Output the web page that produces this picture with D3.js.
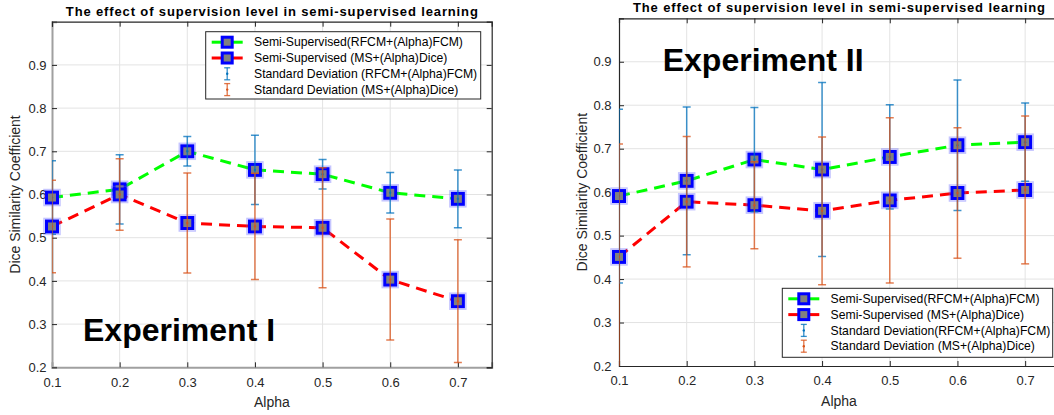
<!DOCTYPE html>
<html><head><meta charset="utf-8">
<script src="https://cdn.jsdelivr.net/npm/d3@7"></script>
<style>body{margin:0;background:#fff;}svg{display:block;font-family:"Liberation Sans",Arial,sans-serif;}</style>
</head><body>
<svg id="c" width="1054" height="415"></svg>
<script>
// ---- data ----
const alpha = [0.1, 0.2, 0.3, 0.4, 0.5, 0.6, 0.7];
const xTicks = [0.1, 0.2, 0.3, 0.4, 0.5, 0.6, 0.7];
const yTicks = [0.2, 0.3, 0.4, 0.5, 0.6, 0.7, 0.8, 0.9];
const title = "The effect of supervision level in semi-supervised learning";
const xLabel = "Alpha";
const yLabel = "Dice Similarity Coefficient";

const exp1RFCM   = [0.593, 0.612, 0.700, 0.657, 0.647, 0.604, 0.590];
const exp1RFCMsd = [0.085, 0.080, 0.034, 0.080, 0.034, 0.047, 0.067];
const exp1MS     = [0.526, 0.600, 0.534, 0.526, 0.523, 0.403, 0.353];
const exp1MSsd   = [0.107, 0.083, 0.116, 0.123, 0.139, 0.140, 0.142];

const exp2RFCM   = [0.591, 0.626, 0.675, 0.652, 0.681, 0.708, 0.715];
const exp2RFCMsd = [0.200, 0.170, 0.120, 0.200, 0.120, 0.150, 0.090];
const exp2MS     = [0.451, 0.578, 0.570, 0.557, 0.581, 0.598, 0.605];
const exp2MSsd   = [0.260, 0.150, 0.100, 0.170, 0.190, 0.150, 0.170];

const legend1 = ["Semi-Supervised(RFCM+(Alpha)FCM)", "Semi-Supervised (MS+(Alpha)Dice)",
                 "Standard Deviation (RFCM+(Alpha)FCM)", "Standard Deviation (MS+(Alpha)Dice)"];
const legend2 = ["Semi-Supervised(RFCM+(Alpha)FCM)", "Semi-Supervised (MS+(Alpha)Dice)",
                 "Standard Deviation(RFCM+(Alpha)FCM)", "Standard Deviation (MS+(Alpha)Dice)"];

const GREEN = "#00ff00", RED = "#ff0000", BLUE = "#0072BD", ORANGE = "#D95319";

const svg = d3.select("#c");

function drawChart(cfg) {
  const g = svg.append("g");
  const x = d3.scaleLinear().domain([0.1, 0.75]).range([cfg.x0, cfg.x1]);
  const y = d3.scaleLinear().domain([0.2, 1.0]).range([cfg.y1, cfg.y0]);
  const clipId = "clip" + cfg.id;
  svg.append("clipPath").attr("id", clipId).append("rect")
    .attr("x", cfg.x0).attr("y", cfg.y0).attr("width", cfg.x1 - cfg.x0).attr("height", cfg.y1 - cfg.y0);

  // grid
  g.append("g").selectAll("line").data(xTicks.slice(1)).join("line")
    .attr("x1", d => x(d)).attr("x2", d => x(d)).attr("y1", cfg.y0).attr("y2", cfg.y1)
    .attr("stroke", "#e3e3e3").attr("stroke-width", 1);
  g.append("g").selectAll("line").data(yTicks.slice(1)).join("line")
    .attr("y1", d => y(d)).attr("y2", d => y(d)).attr("x1", cfg.x0).attr("x2", cfg.x1)
    .attr("stroke", "#e3e3e3").attr("stroke-width", 1);

  // axes (MATLAB-like box, inward ticks)
  const ax = g.append("g").attr("font-size", 13).attr("fill", "#262626");
  const bottom = d3.axisBottom(x).tickValues(xTicks).tickSize(-5).tickPadding(10).tickFormat(d3.format(".1f"));
  const left = d3.axisLeft(y).tickValues(yTicks).tickSize(-5).tickPadding(cfg.yPad).tickFormat(d3.format(".1f"));
  const top = d3.axisTop(x).tickValues(xTicks).tickSize(-5).tickFormat("");
  const right = d3.axisRight(y).tickValues(yTicks).tickSize(-5).tickFormat("");
  const gb = ax.append("g").attr("transform", `translate(0,${cfg.y1})`).call(bottom);
  const gl = ax.append("g").attr("transform", `translate(${cfg.x0},0)`).call(left);
  const gt = ax.append("g").attr("transform", `translate(0,${cfg.y0})`).call(top);
  const gr = ax.append("g").attr("transform", `translate(${cfg.x1},0)`).call(right);
  [gb, gl, gt, gr].forEach(a => {
    a.selectAll("text").attr("fill", "#262626").attr("font-size", 13).attr("font-family", '"Liberation Sans",Arial,sans-serif');
    a.selectAll(".tick line").attr("stroke", "#262626");
    a.select(".domain").attr("stroke", "#262626").attr("stroke-width", 1.2);
  });
  [gb, gl].forEach(a => a.select(".domain").attr("stroke", cfg.lbColor).attr("stroke-width", cfg.lbWidth));

  // lines
  const line = d3.line().x((d, i) => x(alpha[i])).y(d => y(d));
  const series = [{v: cfg.rfcm, c: GREEN}, {v: cfg.ms, c: RED}];
  series.forEach(s => {
    g.append("path").datum(s.v).attr("d", line).attr("fill", "none")
      .attr("stroke", s.c).attr("stroke-width", 3).attr("stroke-dasharray", "11,7");
  });
  // markers
  series.forEach(s => {
    const m = g.append("g");
    m.selectAll("rect.h").data(s.v).join("rect").attr("class", "h")
      .attr("x", (d, i) => x(alpha[i]) - 8).attr("y", d => y(d) - 8).attr("width", 16).attr("height", 16)
      .attr("fill", "none").attr("stroke", "rgba(90,90,255,0.35)").attr("stroke-width", 1.5);
    m.selectAll("rect.m").data(s.v).join("rect").attr("class", "m")
      .attr("x", (d, i) => x(alpha[i]) - 5.5).attr("y", d => y(d) - 5.5).attr("width", 11).attr("height", 11)
      .attr("fill", "#808080").attr("stroke", "#0000ff").attr("stroke-width", 3);
  });
  // error bars
  const eb = g.append("g").attr("clip-path", `url(#${clipId})`);
  [{v: cfg.rfcm, sd: cfg.rfcmSd, c: BLUE}, {v: cfg.ms, sd: cfg.msSd, c: ORANGE}].forEach(s => {
    const e = eb.append("g").attr("stroke", s.c).attr("stroke-opacity", 0.75).attr("stroke-width", 1.5);
    s.v.forEach((d, i) => {
      const cx = x(alpha[i]), yt = y(d + s.sd[i]), yb = y(d - s.sd[i]);
      e.append("line").attr("x1", cx).attr("x2", cx).attr("y1", yt).attr("y2", yb);
      e.append("line").attr("x1", cx - 4).attr("x2", cx + 4).attr("y1", yt).attr("y2", yt);
      e.append("line").attr("x1", cx - 4).attr("x2", cx + 4).attr("y1", yb).attr("y2", yb);
      eb.append("circle").attr("cx", cx).attr("cy", y(d)).attr("r", 1.2).attr("fill", s.c).attr("fill-opacity", 0.8);
    });
  });

  // title and labels
  g.append("text").attr("x", (cfg.x0 + cfg.x1) / 2).attr("y", cfg.titleY).attr("text-anchor", "middle")
    .attr("font-size", 13).attr("font-weight", "bold").attr("fill", "#000")
    .attr("textLength", 412).attr("lengthAdjust", "spacing").text(title);
  g.append("text").attr("x", (cfg.x0 + cfg.x1) / 2).attr("y", cfg.y1 + 40).attr("text-anchor", "middle")
    .attr("font-size", 14).attr("fill", "#262626").text(xLabel);
  g.append("text").attr("transform", `translate(${cfg.yLabX},${(cfg.y0 + cfg.y1) / 2}) rotate(-90)`)
    .attr("text-anchor", "middle").attr("font-size", 14).attr("fill", "#262626").text(yLabel);
  g.append("text").attr("x", cfg.expX).attr("y", cfg.expY).attr("font-size", 32).attr("font-weight", "bold")
    .attr("fill", "#000").text(cfg.expText);

  // legend
  const L = cfg.leg;
  const lg = g.append("g");
  lg.append("rect").attr("x", L.x).attr("y", L.y).attr("width", L.w).attr("height", L.h)
    .attr("fill", "#fff").attr("stroke", "#262626").attr("stroke-width", 1);
  cfg.legendText.forEach((t, i) => {
    const ry = L.y + 10.5 + i * 15.8;
    const sx = L.x + 6, ex = L.x + 37, mx = (sx + ex) / 2;
    if (i < 2) {
      lg.append("line").attr("x1", sx).attr("x2", ex).attr("y1", ry).attr("y2", ry)
        .attr("stroke", i === 0 ? GREEN : RED).attr("stroke-width", 3);
      lg.append("rect").attr("x", mx - 5).attr("y", ry - 5).attr("width", 10).attr("height", 10)
        .attr("fill", "#808080").attr("stroke", "#0000ff").attr("stroke-width", 3);
    } else {
      const c = i === 2 ? BLUE : ORANGE;
      const e = lg.append("g").attr("stroke", c).attr("stroke-width", 1.3).attr("stroke-opacity", 0.8);
      e.append("line").attr("x1", mx).attr("x2", mx).attr("y1", ry - 6).attr("y2", ry + 6);
      e.append("line").attr("x1", mx - 3).attr("x2", mx + 3).attr("y1", ry - 6).attr("y2", ry - 6);
      e.append("line").attr("x1", mx - 3).attr("x2", mx + 3).attr("y1", ry + 6).attr("y2", ry + 6);
      lg.append("circle").attr("cx", mx).attr("cy", ry).attr("r", 1.2).attr("fill", c);
    }
    lg.append("text").attr("x", L.x + 48.3).attr("y", ry + 4.2).attr("font-size", 12.2).attr("fill", "#000").text(t);
  });
}

drawChart({id: 1, x0: 52, x1: 491.7, y0: 21.7, y1: 367.3, titleY: 15.5, yPad: 5.5,
  rfcm: exp1RFCM, rfcmSd: exp1RFCMsd, ms: exp1MS, msSd: exp1MSsd,
  lbColor: "#a0a0a0", lbWidth: 2, yLabX: 20, expX: 83, expY: 341, expText: "Experiment I",
  leg: {x: 205.7, y: 31.7, w: 275, h: 67.3}, legendText: legend1});

drawChart({id: 2, x0: 619, x1: 1059, y0: 18.3, y1: 366, titleY: 11.5, yPad: 7.5,
  rfcm: exp2RFCM, rfcmSd: exp2RFCMsd, ms: exp2MS, msSd: exp2MSsd,
  lbColor: "#262626", lbWidth: 1.2, yLabX: 587, expX: 662.7, expY: 70.7, expText: "Experiment II",
  leg: {x: 782.3, y: 288.3, w: 270.4, h: 69}, legendText: legend2});
</script>
</body></html>
